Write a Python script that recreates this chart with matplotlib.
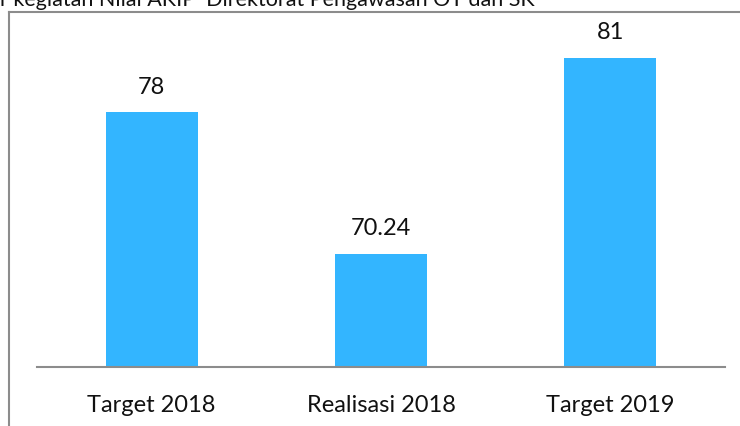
import matplotlib.pyplot as plt
from matplotlib.lines import Line2D

# Nilai AKIP data
categories = ['Target 2018', 'Realisasi 2018', 'Target 2019']
values = [78, 70.24, 81]
value_labels = ['78', '70.24', '81']
title = 'Indikator kegiatan Nilai AKIP  Direktorat Pengawasan OT dan SK'

bar_color = '#33B5FF'
frame_color = '#8C8C8C'

plt.rcParams['font.family'] = ['Lato', 'DejaVu Sans']

W, H = 740, 427
fig = plt.figure(figsize=(W / 100, H / 100), dpi=100)

# plot area in pixel terms
left, right, bottom = 37, 725, 368
ymin, ymax = 64, 82
top = bottom - (ymax - ymin) * 18.18
ax = fig.add_axes([left / W, 1 - bottom / H, (right - left) / W, (bottom - top) / H])

x = range(len(categories))
ax.bar(x, values, width=0.4, color=bar_color, zorder=2)
ax.set_xlim(-0.5, 2.5)
ax.set_ylim(ymin, ymax)

for xi, v, lab in zip(x, values, value_labels):
    ax.annotate(lab, (xi, v), xytext=(0, 26 * 0.72), textcoords='offset points',
                ha='center', va='center', fontsize=17, color='#111111',
                annotation_clip=False)

ax.set_xticks(list(x))
ax.set_xticklabels(categories, fontsize=17, color='#111111')
ax.tick_params(axis='x', length=0, pad=19.5)
ax.set_yticks([])
for side in ['left', 'right', 'top']:
    ax.spines[side].set_visible(False)
ax.spines['bottom'].set_color(frame_color)
ax.spines['bottom'].set_linewidth(1.5)

# outer chart frame (left and top edges)
fx = 8.5 / W
fy = 1 - 12.5 / H
fig.add_artist(Line2D([fx, fx], [0, fy], color=frame_color, lw=1.5))
fig.add_artist(Line2D([fx, 1], [fy, fy], color=frame_color, lw=1.5))

# title, running off the left and top edges
fig.text(535 / W, 1 - 6 / H, title, ha='right', va='baseline',
         fontsize=15.5, color='#111111')

fig.savefig('out.png', dpi=100)
